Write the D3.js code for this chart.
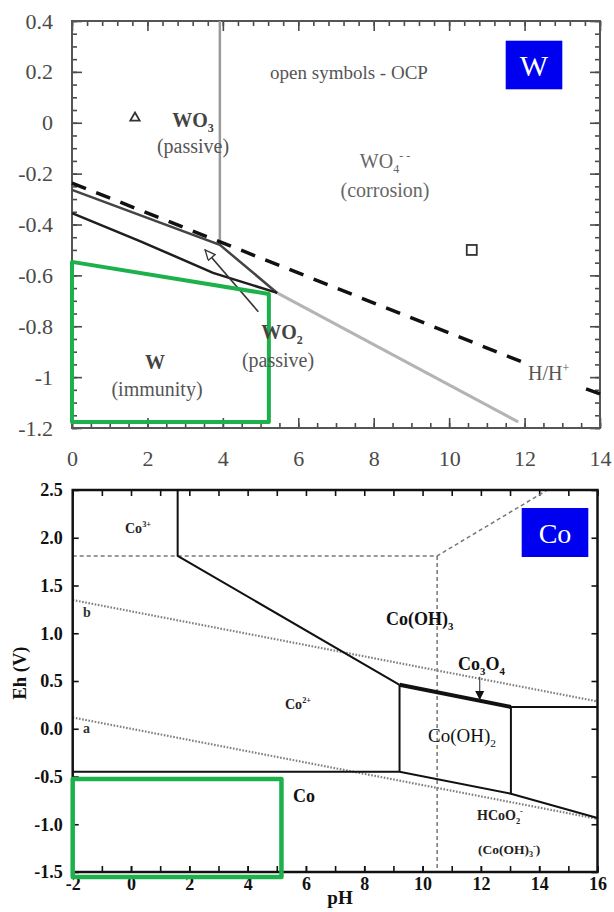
<!DOCTYPE html>
<html>
<head>
<meta charset="utf-8">
<script src="https://cdnjs.cloudflare.com/ajax/libs/d3/7.8.5/d3.min.js"></script>
<style>
body { margin: 0; background: #fff; }
text { font-family: "Liberation Serif", "Times New Roman", serif; }
</style>
</head>
<body>
<script>
// W (tungsten) panel values
var wXTicks = [0, 2, 4, 6, 8, 10, 12, 14];
var wYTicks = [0.4, 0.2, 0, -0.2, -0.4, -0.6, -0.8, -1, -1.2];
var wYLabels = ["0.4", "0.2", "0", "-0.2", "-0.4", "-0.6", "-0.8", "-1", "-1.2"];
var wHydrogen = [[0, -0.237], [12, -0.944]];
var wHydrogenEnd = [[13.63, -1.046], [14, -1.066]];
var wUpper = [[0, -0.264], [3.92, -0.48], [5.44, -0.669]];
var wLower = [[0, -0.355], [1.8, -0.465], [3.74, -0.59], [5.44, -0.669]];
var wGray = [[5.44, -0.669], [11.83, -1.176]];
var wVertical = [[3.92, 0.4], [3.92, -0.48]];
var wArrow = [[4.94, -0.743], [3.53, -0.5]];
var wGreen = [[0, -0.547], [5.22, -0.673], [5.22, -1.176], [0, -1.176]];
var wTriangle = [1.67, 0.019];
var wSquare = [10.6, -0.5];

// Co (cobalt) panel values
var coXTicks = [-2, 0, 2, 4, 6, 8, 10, 12, 14, 16];
var coXLabels = ["-2", "0", "2", "4", "6", "8", "10", "12", "14", "16"];
var coYTicks = [2.5, 2.0, 1.5, 1.0, 0.5, 0.0, -0.5, -1.0, -1.5];
var coYLabels = ["2.5", "2.0", "1.5", "1.0", "0.5", "0.0", "-0.5", "-1.0", "-1.5"];
var coSolid = [
	[[1.6, 2.5], [1.6, 1.81], [9.21, 0.46]],
	[[9.21, 0.46], [9.21, -0.45]],
	[[13.03, 0.228], [13.03, -0.68]],
	[[13.03, 0.228], [16, 0.228]],
	[[-2, -0.45], [9.21, -0.45], [13.03, -0.68], [16, -0.935]]
];
var coThick = [[9.21, 0.46], [13.03, 0.228]];
var coDotted = [
	[[-2, 1.348], [16, 0.286]],
	[[-2, 0.118], [16, -0.944]]
];
var coDashed = [
	[[-2, 1.81], [10.5, 1.81], [14.28, 2.5]],
	[[10.5, 1.81], [10.5, -1.5]]
];
var coArrow = [[11.96, 0.545], [11.96, 0.3]];
var coGreen = [[-2, -0.526], [5.16, -0.526], [5.16, -1.552], [-2, -1.552]];

var svgContainer = d3.select("body")
	.append("svg")
	.attr("width", 614)
	.attr("height", 912);

svgContainer.append("rect")
	.attr("width", 614)
	.attr("height", 912)
	.attr("fill", "white");

var defs = svgContainer.append("defs");

defs.append("marker")
	.attr("id", "openArrow")
	.attr("viewBox", "0 -5 10 10")
	.attr("refX", 10)
	.attr("refY", 0)
	.attr("markerUnits", "userSpaceOnUse")
	.attr("markerWidth", 14)
	.attr("markerHeight", 10)
	.attr("orient", "auto")
	.append("path")
	.attr("d", "M0,-4.5L10,0L0,4.5Z")
	.attr("fill", "white")
	.attr("stroke", "#333")
	.attr("stroke-width", 1.3);

defs.append("marker")
	.attr("id", "fillArrow")
	.attr("viewBox", "0 -5 10 10")
	.attr("refX", 10)
	.attr("refY", 0)
	.attr("markerUnits", "userSpaceOnUse")
	.attr("markerWidth", 9)
	.attr("markerHeight", 11)
	.attr("orient", "auto")
	.append("path")
	.attr("d", "M0,-5L10,0L0,5Z")
	.attr("fill", "#111");

// scales
var wX = d3.scaleLinear().domain([0, 14]).range([72, 600]);
var wY = d3.scaleLinear().domain([-1.2, 0.4]).range([428, 21]);
var coX = d3.scaleLinear().domain([-2, 16]).range([72.7, 597.5]);
var coY = d3.scaleLinear().domain([-1.5, 2.5]).range([872, 490]);

var lineFor = function(x, y){
	return d3.line().x(function(d){ return x(d[0]); }).y(function(d){ return y(d[1]); });
};
var wLine = lineFor(wX, wY);
var coLine = lineFor(coX, coY);

// draw one axis of ticks, labels optional
var drawTicks = function(axis, transform, values, size, labels, padding, font, color, weight){
	var g = svgContainer.append("g")
		.attr("transform", transform)
		.call(axis.tickValues(values)
			.tickSizeInner(-size)
			.tickSizeOuter(0)
			.tickPadding(padding || 3)
			.tickFormat(function(d, i){ return labels ? labels[i] : ""; }));
	g.select(".domain").remove();
	g.selectAll(".tick line").attr("stroke", color).attr("stroke-width", 1.6);
	g.selectAll(".tick text")
		.attr("font-family", "Liberation Serif, serif")
		.attr("font-size", font || 10)
		.attr("font-weight", weight || "normal")
		.attr("fill", color);
	return g;
};

// text with sub / sup parts
var addLabel = function(x, y, parts, size, weight, color, anchor){
	var t = svgContainer.append("text")
		.attr("x", x)
		.attr("y", y)
		.attr("font-size", size)
		.attr("font-weight", weight)
		.attr("fill", color)
		.attr("text-anchor", anchor || "middle");
	var shift = 0;
	parts.forEach(function(p){
		var target = 0;
		var fs = size;
		if(p[1] === "sub"){ target = size * 0.25; fs = size * 0.6; }
		if(p[1] === "sup"){ target = -size * 0.4; fs = size * 0.6; }
		t.append("tspan")
			.attr("dy", target - shift)
			.attr("font-size", fs)
			.text(p[0]);
		shift = target;
	});
	return t;
};

// ---------- W panel ----------
var wMinorY = d3.range(-1.2, 0.4001, 0.05);
var wMinorTop = d3.range(0, 14.001, 0.4);
var wMinorBottom = d3.range(0, 14.001, 0.5);
var wc = "#4a4a4a";

drawTicks(d3.axisLeft(wY), "translate(" + wX(0) + ",0)", wMinorY, 5, null, 3, 10, wc);
drawTicks(d3.axisLeft(wY), "translate(" + wX(0) + ",0)", wYTicks, 10, wYLabels, 19, 22, wc);
drawTicks(d3.axisRight(wY), "translate(" + wX(14) + ",0)", wMinorY, 5, null, 3, 10, wc);
drawTicks(d3.axisRight(wY), "translate(" + wX(14) + ",0)", wYTicks, 10, null, 3, 10, wc);
drawTicks(d3.axisTop(wX), "translate(0," + wY(0.4) + ")", wMinorTop, 5, null, 3, 10, wc);
drawTicks(d3.axisTop(wX), "translate(0," + wY(0.4) + ")", wXTicks, 10, null, 3, 10, wc);
drawTicks(d3.axisBottom(wX), "translate(0," + wY(-1.2) + ")", wMinorBottom, 5, null, 3, 10, wc);
drawTicks(d3.axisBottom(wX), "translate(0," + wY(-1.2) + ")", wXTicks, 10, wXTicks.map(String), 22, 22, wc);

svgContainer.append("rect")
	.attr("x", wX(0))
	.attr("y", wY(0.4))
	.attr("width", wX(14) - wX(0))
	.attr("height", wY(-1.2) - wY(0.4))
	.attr("fill", "none")
	.attr("stroke", "#555")
	.attr("stroke-width", 2);

svgContainer.append("path")
	.attr("d", wLine(wVertical))
	.attr("fill", "none")
	.attr("stroke", "#9a9a9a")
	.attr("stroke-width", 2.5);

svgContainer.append("path")
	.attr("d", wLine(wGray))
	.attr("fill", "none")
	.attr("stroke", "#b4b4b4")
	.attr("stroke-width", 3);

svgContainer.append("path")
	.attr("d", wLine(wUpper))
	.attr("fill", "none")
	.attr("stroke", "#444")
	.attr("stroke-width", 2.5);

svgContainer.append("path")
	.attr("d", wLine(wLower))
	.attr("fill", "none")
	.attr("stroke", "#1e1e1e")
	.attr("stroke-width", 2.5);

[wHydrogen, wHydrogenEnd].forEach(function(seg){
	svgContainer.append("path")
		.attr("d", wLine(seg))
		.attr("fill", "none")
		.attr("stroke", "#111")
		.attr("stroke-width", 3.5)
		.attr("stroke-dasharray", "15,11");
});

svgContainer.append("path")
	.attr("d", wLine(wArrow))
	.attr("fill", "none")
	.attr("stroke", "#333")
	.attr("stroke-width", 1.6)
	.attr("marker-end", "url(#openArrow)");

svgContainer.append("path")
	.attr("d", wLine(wGreen) + "Z")
	.attr("fill", "none")
	.attr("stroke", "#1db14b")
	.attr("stroke-width", 4)
	.attr("stroke-linejoin", "round");

// open symbols
svgContainer.append("path")
	.attr("d", d3.symbol().type(d3.symbolTriangle).size(38)())
	.attr("transform", "translate(" + wX(wTriangle[0]) + "," + wY(wTriangle[1]) + ")")
	.attr("fill", "none")
	.attr("stroke", "#333")
	.attr("stroke-width", 1.8);

svgContainer.append("rect")
	.attr("x", wX(wSquare[0]) - 5)
	.attr("y", wY(wSquare[1]) - 5)
	.attr("width", 10)
	.attr("height", 10)
	.attr("fill", "none")
	.attr("stroke", "#333")
	.attr("stroke-width", 1.8);

addLabel(349, 79, [["open symbols - OCP", ""]], 19, "normal", "#555");
addLabel(193, 127, [["WO", ""], ["3", "sub"]], 20, "bold", "#444");
addLabel(193, 153, [["(passive)", ""]], 20, "normal", "#555");
addLabel(385, 168, [["WO", ""], ["4", "sub"], ["- -", "sup"]], 20, "normal", "#666");
addLabel(385, 197, [["(corrosion)", ""]], 20, "normal", "#666");
addLabel(155, 369, [["W", ""]], 20, "bold", "#444");
addLabel(157, 396, [["(immunity)", ""]], 20, "normal", "#555");
addLabel(282, 339, [["WO", ""], ["2", "sub"]], 20, "bold", "#444");
addLabel(278, 367, [["(passive)", ""]], 20, "normal", "#555");
addLabel(528, 380, [["H/H", ""], ["+", "sup"]], 20, "normal", "#555", "start");

svgContainer.append("rect")
	.attr("x", 505.7)
	.attr("y", 40.7)
	.attr("width", 56.6)
	.attr("height", 48.6)
	.attr("fill", "#0000f0");
svgContainer.append("text")
	.attr("x", 534)
	.attr("y", 75.5)
	.attr("text-anchor", "middle")
	.attr("font-family", "Liberation Sans, Arial, sans-serif")
	.attr("font-size", 30)
	.attr("fill", "white")
	.text("W");

// ---------- Co panel ----------
var coMinorX = d3.range(-2, 16.001, 1);
var coMinorY = d3.range(-1.5, 2.5001, 0.5);
var cc = "#111";

drawTicks(d3.axisLeft(coY), "translate(" + coX(-2) + ",0)", coYTicks, 6, coYLabels, 10, 18, cc, "bold");
drawTicks(d3.axisRight(coY), "translate(" + coX(16) + ",0)", coMinorY, 6, null, 3, 10, cc);
drawTicks(d3.axisTop(coX), "translate(0," + coY(2.5) + ")", coMinorX, 6, null, 3, 10, cc);
drawTicks(d3.axisBottom(coX), "translate(0," + coY(-1.5) + ")", coMinorX, 6, null, 3, 10, cc);
drawTicks(d3.axisBottom(coX), "translate(0," + coY(-1.5) + ")", coXTicks, 6, coXLabels, 5, 18, cc, "bold");

coDashed.forEach(function(seg){
	svgContainer.append("path")
		.attr("d", coLine(seg))
		.attr("fill", "none")
		.attr("stroke", "#777")
		.attr("stroke-width", 1.5)
		.attr("stroke-dasharray", "4,3");
});

coDotted.forEach(function(seg){
	svgContainer.append("path")
		.attr("d", coLine(seg))
		.attr("fill", "none")
		.attr("stroke", "#808080")
		.attr("stroke-width", 2.2)
		.attr("stroke-dasharray", "1.6,1.6");
});

coSolid.forEach(function(seg){
	svgContainer.append("path")
		.attr("d", coLine(seg))
		.attr("fill", "none")
		.attr("stroke", "#111")
		.attr("stroke-width", 2);
});

svgContainer.append("path")
	.attr("d", coLine(coThick))
	.attr("fill", "none")
	.attr("stroke", "#111")
	.attr("stroke-width", 4);

svgContainer.append("path")
	.attr("d", coLine(coArrow))
	.attr("fill", "none")
	.attr("stroke", "#444")
	.attr("stroke-width", 1.2)
	.attr("marker-end", "url(#fillArrow)");

svgContainer.append("rect")
	.attr("x", coX(-2))
	.attr("y", coY(2.5))
	.attr("width", coX(16) - coX(-2))
	.attr("height", coY(-1.5) - coY(2.5))
	.attr("fill", "none")
	.attr("stroke", "#111")
	.attr("stroke-width", 2.5);

svgContainer.append("path")
	.attr("d", coLine(coGreen) + "Z")
	.attr("fill", "none")
	.attr("stroke", "#1db14b")
	.attr("stroke-width", 4.5)
	.attr("stroke-linejoin", "round");

addLabel(125, 533, [["Co", ""], ["3+", "sup"]], 14, "bold", "#222", "start");
addLabel(83, 617, [["b", ""]], 14, "bold", "#333", "start");
addLabel(83, 733, [["a", ""]], 14, "bold", "#333", "start");
addLabel(285, 709, [["Co", ""], ["2+", "sup"]], 14, "bold", "#222", "start");
addLabel(386, 625, [["Co(OH)", ""], ["3", "sub"]], 18, "bold", "#111", "start");
addLabel(458, 670, [["Co", ""], ["3", "sub"], ["O", ""], ["4", "sub"]], 18, "bold", "#111", "start");
addLabel(428, 742, [["Co(OH)", ""], ["2", "sub"]], 19, "normal", "#111", "start");
addLabel(293, 802, [["Co", ""]], 18, "bold", "#111", "start");
addLabel(477, 820, [["HCoO", ""], ["2", "sub"], ["-", "sup"]], 14, "bold", "#222", "start");
addLabel(478, 854, [["(Co(OH)", ""], ["3", "sub"], ["-", "sup"], [")", ""]], 13.5, "bold", "#222", "start");

svgContainer.append("text")
	.attr("transform", "translate(26,673) rotate(-90)")
	.attr("text-anchor", "middle")
	.attr("font-size", 18.5)
	.attr("font-weight", "bold")
	.attr("fill", "#111")
	.text("Eh (V)");

svgContainer.append("text")
	.attr("x", 340)
	.attr("y", 904)
	.attr("text-anchor", "middle")
	.attr("font-size", 19)
	.attr("font-weight", "bold")
	.attr("fill", "#111")
	.text("pH");

svgContainer.append("rect")
	.attr("x", 521.7)
	.attr("y", 508)
	.attr("width", 66.6)
	.attr("height", 49)
	.attr("fill", "#0000f0");
svgContainer.append("text")
	.attr("x", 555)
	.attr("y", 542.5)
	.attr("text-anchor", "middle")
	.attr("font-family", "Liberation Sans, Arial, sans-serif")
	.attr("font-size", 28)
	.attr("fill", "white")
	.text("Co");
</script>
</body>
</html>
